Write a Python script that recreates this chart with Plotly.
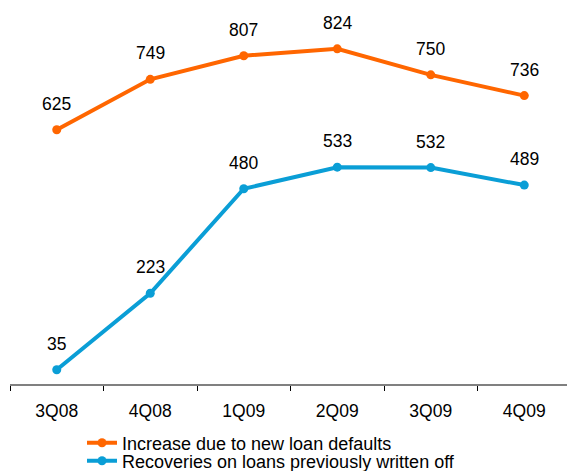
import plotly.graph_objects as go

categories = ["3Q08", "4Q08", "1Q09", "2Q09", "3Q09", "4Q09"]
# printed data labels
new_defaults_labels = [625, 749, 807, 824, 750, 736]
recoveries_labels = [35, 223, 480, 533, 532, 489]
# plotted heights (the last two orange points sit off their labels)
new_defaults = [625, 749, 807, 824, 760, 709]
recoveries = [35, 223, 480, 533, 532, 489]

orange = "#FF6600"
blue = "#0A9ED6"
font_family = "Liberation Sans, Arial, sans-serif"

fig = go.Figure()
fig.add_trace(go.Scatter(
    x=categories, y=new_defaults, mode="lines+markers",
    name="Increase due to new loan defaults",
    line=dict(color=orange, width=4), marker=dict(color=orange, size=9),
    cliponaxis=False, legend="legend",
))
fig.add_trace(go.Scatter(
    x=categories, y=recoveries, mode="lines+markers",
    name="Recoveries on loans previously written off",
    line=dict(color=blue, width=4), marker=dict(color=blue, size=9),
    cliponaxis=False, legend="legend2",
))

for ys, labels in ((new_defaults, new_defaults_labels), (recoveries, recoveries_labels)):
    for c, y, lab in zip(categories, ys, labels):
        fig.add_annotation(
            x=c, y=y, text=str(lab), showarrow=False,
            xanchor="center", yanchor="middle", yshift=26,
            font=dict(size=17.5, color="#000000", family=font_family),
        )

legend_common = dict(
    xref="container", yref="container", xanchor="left", yanchor="middle",
    bgcolor="rgba(0,0,0,0)", borderwidth=0,
    font=dict(size=18, color="#000000", family=font_family),
    itemwidth=30,
)

fig.update_layout(
    width=567, height=471,
    margin=dict(l=10, r=0, t=0, b=87, autoexpand=False),
    paper_bgcolor="white", plot_bgcolor="white",
    font=dict(family=font_family, size=17.5, color="#000000"),
    showlegend=True,
    legend=dict(x=82 / 567, y=1 - 443 / 471, **legend_common),
    legend2=dict(x=82 / 567, y=1 - 461 / 471, **legend_common),
    xaxis=dict(
        type="category", range=[-0.5, 5.457],
        showline=True, linecolor="#808080", linewidth=1.5,
        ticks="outside", tickson="boundaries", ticklen=5, tickcolor="#000000", tickwidth=1,
        ticklabelstandoff=10,
        showgrid=False, zeroline=False, tickangle=0, automargin=False,
        tickfont=dict(size=17.5, color="#000000", family=font_family),
    ),
    yaxis=dict(
        range=[0, 944], visible=False, showgrid=False, zeroline=False,
    ),
)

fig.write_html("out.html")
